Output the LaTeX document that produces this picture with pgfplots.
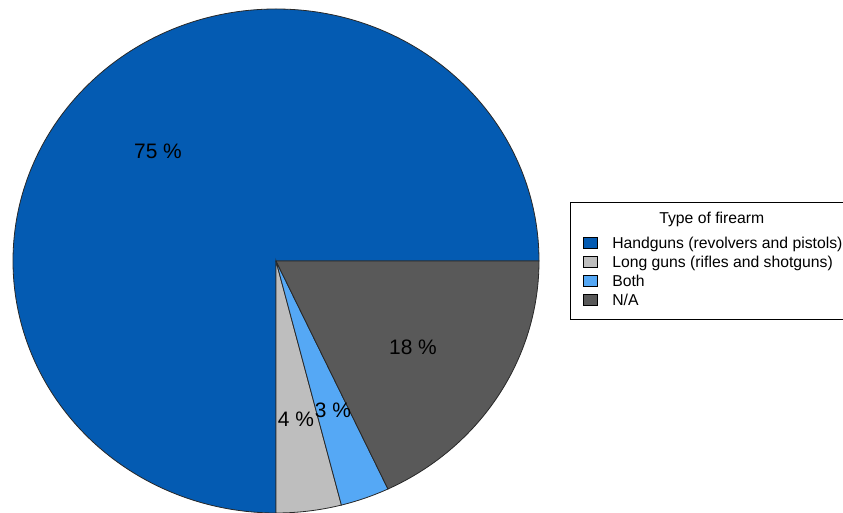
\documentclass[border=0pt]{standalone}
\usepackage{pgfplots}
\pgfplotsset{compat=1.18}
\usepackage{fontspec}
\setmainfont{Liberation Sans}
\definecolor{hand}{RGB}{4,91,178}
\definecolor{long}{RGB}{190,190,190}
\definecolor{both}{RGB}{85,168,245}
\definecolor{na}{RGB}{89,89,89}
\definecolor{edge}{RGB}{40,40,40}
\pgfplotsset{
  sq/.style={legend image code/.code={%
    \path[draw=none,fill=none] (0bp,2.3bp) rectangle (14bp,13.3bp);
    \draw[overlay,fill=#1,draw=black,line width=0.6bp] (0bp,-6.7bp) rectangle (14bp,4.3bp);}}
}
\begin{document}
\begin{tikzpicture}
\def\cx{276}\def\cy{252}
% shares in percent
\def\pHand{75}\def\pLong{4}\def\pBoth{3}\def\pNA{18}
\pgfmathsetmacro\aA{0}
\pgfmathsetmacro\aB{\aA+\pHand*3.6}
\pgfmathsetmacro\aC{\aB+\pLong*3.6}
\pgfmathsetmacro\aD{\aC+\pBoth*3.6}
\pgfmathsetmacro\aE{\aD+\pNA*3.6}
\begin{axis}[
  at={(0,0)}, anchor=south west, scale only axis,
  width=843bp, height=513bp,
  xmin=0, xmax=843, ymin=0, ymax=513,
  hide axis, clip=false,
  legend cell align=left,
  legend style={at={(axis cs:570,311)}, anchor=north west,
    draw=black, line width=0.6bp, fill=white,
    inner xsep=13bp, inner ysep=13.3bp,
    font=\fontsize{15.8}{18}\selectfont,
    column sep=15bp, row sep=-1.3bp,
    nodes={inner sep=0pt, text height=14bp, text depth=0bp}},
]
\addlegendimage{empty legend}
\addlegendentry{\hspace*{47bp}\raisebox{5.8bp}{Type of firearm}}
\addlegendimage{sq=hand}
\addlegendentry{Handguns (revolvers and pistols)}
\addlegendimage{sq=long}
\addlegendentry{Long guns (rifles and shotguns)}
\addlegendimage{sq=both}
\addlegendentry{Both}
\addlegendimage{sq=na}
\addlegendentry{N/A}

\filldraw[fill=hand, draw=edge, line width=0.8bp] (axis cs:\cx,\cy) -- ++(\aA:263bp and 252bp) arc[start angle=\aA, end angle=\aB, x radius=263bp, y radius=252bp] -- cycle;
\filldraw[fill=long, draw=edge, line width=0.8bp] (axis cs:\cx,\cy) -- ++(\aB:263bp and 252bp) arc[start angle=\aB, end angle=\aC, x radius=263bp, y radius=252bp] -- cycle;
\filldraw[fill=both, draw=edge, line width=0.8bp] (axis cs:\cx,\cy) -- ++(\aC:263bp and 252bp) arc[start angle=\aC, end angle=\aD, x radius=263bp, y radius=252bp] -- cycle;
\filldraw[fill=na, draw=edge, line width=0.8bp] (axis cs:\cx,\cy) -- ++(\aD:263bp and 252bp) arc[start angle=\aD, end angle=\aE, x radius=263bp, y radius=252bp] -- cycle;

\node[font=\fontsize{21}{21}\selectfont, inner sep=0pt] at (axis cs:158,362) {75 \%};
\node[font=\fontsize{21}{21}\selectfont, inner sep=0pt] at (axis cs:413,166) {18 \%};
\node[font=\fontsize{21}{21}\selectfont, inner sep=0pt] at (axis cs:296,94) {4 \%};
\node[font=\fontsize{21}{21}\selectfont, inner sep=0pt] at (axis cs:333,103) {3 \%};
\end{axis}
\pgfresetboundingbox
\path (0,0) rectangle (843bp,513bp);
\end{tikzpicture}
\end{document}
